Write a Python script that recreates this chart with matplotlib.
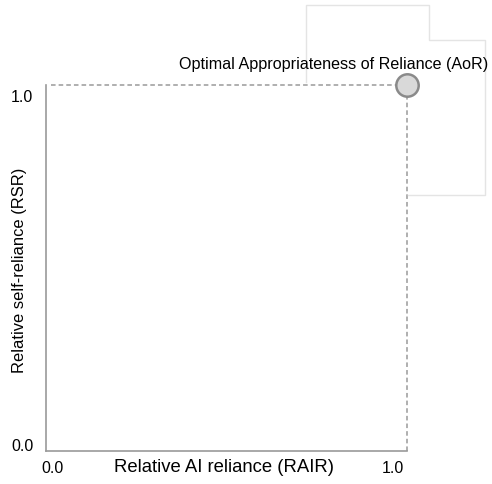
import matplotlib.pyplot as plt
from matplotlib.lines import Line2D

plt.rcParams['font.family'] = ['Liberation Sans', 'DejaVu Sans']

# data
aor_x = [1.0]
aor_y = [1.0]
tick_vals = [0.0, 1.0]
tick_labels = ['0.0', '1.0']
aor_label = 'Optimal Appropriateness of Reliance (AoR)'

fig = plt.figure(figsize=(4.92, 4.85), dpi=100)
W, H = 492, 485
ax = fig.add_axes([46 / W, (485 - 452) / H, (407 - 46) / W, (452 - 86) / H])
ax.set_xlim(0, 1)
ax.set_ylim(0, 1)

for s in ['top', 'right']:
    ax.spines[s].set_visible(False)
for s in ['left', 'bottom']:
    ax.spines[s].set_color('#9a9a9a')
    ax.spines[s].set_linewidth(1.2)
ax.set_xticks([])
ax.set_yticks([])

# dashed guide lines to the optimum
ax.plot([0.015, aor_x[0]], [aor_y[0], aor_y[0]], ls=(0, (3, 2)), color='#9a9a9a', lw=1.1, clip_on=False)
ax.plot([aor_x[0], aor_x[0]], [0, aor_y[0]], ls=(0, (3, 2)), color='#9a9a9a', lw=1.1, clip_on=False)

# light outline box behind the label
px = [306, 306, 429, 429, 485, 485, 408]
py = [83, 6, 6, 41, 41, 196, 196]
fig.add_artist(Line2D([x / W for x in px], [1 - y / H for y in py], color='#e4e4e4', lw=1.0))

ax.scatter(aor_x, aor_y, s=260, color='#d9d9d9', edgecolor='#8a8a8a', linewidth=1.8, zorder=5, clip_on=False)
fig.text(179 / W, 1 - 65 / H, aor_label, fontsize=11.65, va='center', ha='left')

# tick labels
for v, lab in zip(tick_vals, tick_labels):
    fig.text((53 + v * (393 - 53)) / W, 1 - 469 / H, lab, fontsize=11.5, ha='center', va='center')
    fig.text(22 / W, 1 - (447 + v * (98 - 447)) / H, lab, fontsize=11.5, ha='center', va='center')

fig.text(224 / W, 1 - 468 / H, 'Relative AI reliance (RAIR)', fontsize=13.3, ha='center', va='center')
fig.text(20 / W, 1 - 270 / H, 'Relative self-reliance (RSR)', fontsize=11.9, ha='center', va='center', rotation=90)

fig.savefig('out.png', dpi=100)
